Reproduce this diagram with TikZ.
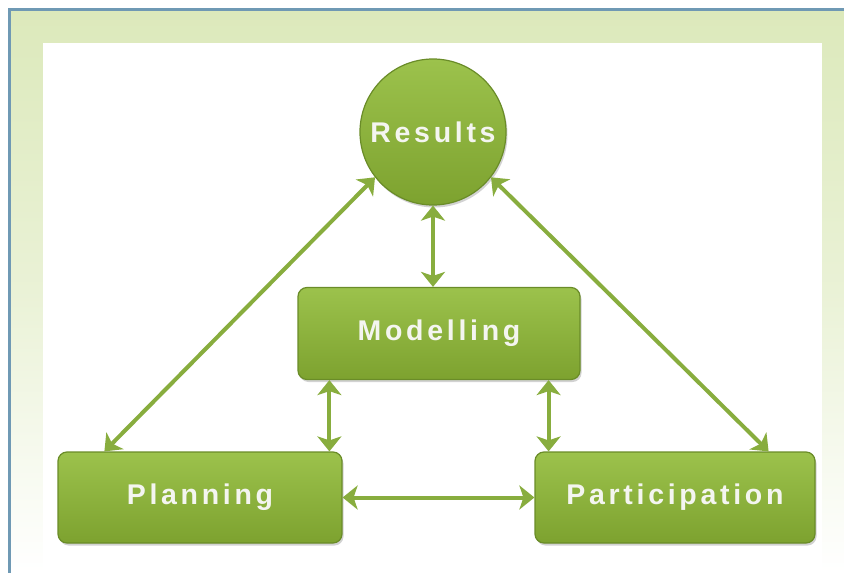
\documentclass[tikz,border=0pt]{standalone}
\usepackage{fontspec}
\setmainfont{Liberation Sans}
\newfontfamily\labelfont[LetterSpace=13]{Liberation Sans}
\usetikzlibrary{arrows.meta,shadows}
\definecolor{framegreen}{HTML}{DCE9BB}
\definecolor{frameblue}{HTML}{6F99B4}
\definecolor{boxtop}{HTML}{9CC24C}
\definecolor{boxbot}{HTML}{7DA22F}
\definecolor{boxline}{HTML}{6A8C28}
\definecolor{arrowgreen}{HTML}{88AD3E}
\definecolor{labelwhite}{HTML}{F4F5F0}
\tikzset{
  greenshape/.style={draw=boxline, line width=1.2pt, top color=boxtop, bottom color=boxbot,
    text=labelwhite, font=\labelfont\bfseries\fontsize{28.5pt}{32pt}\selectfont,
    drop shadow={shadow xshift=1.5pt, shadow yshift=-2.5pt, opacity=0.35}},
  stepbox/.style={greenshape, rectangle, rounded corners=9pt, inner sep=0pt},
  circ/.style={greenshape, circle, minimum size=146pt, inner sep=0pt},
  arr/.style={draw=arrowgreen, line width=4pt,
    {Stealth[length=15pt,width=24pt,inset=4pt]}-{Stealth[length=15pt,width=24pt,inset=4pt]}}
}
\begin{document}
\begin{tikzpicture}[x=1pt,y=-1pt]
\useasboundingbox (0,0) rectangle (844,573);
\fill[top color=framegreen, bottom color=white, middle color=framegreen!60!white] (9.5,9.5) rectangle (844,573);
\fill[white] (43,43) rectangle (822,573);
\draw[frameblue, line width=3pt] (9.5,573) -- (9.5,9.5) -- (844,9.5);

\node[circ] (res) at (433,132) {Results};
\node[stepbox, minimum width=282pt, minimum height=92pt] (mod) at (439,333.5) {Modelling};
\node[stepbox, minimum width=284pt, minimum height=91pt] (plan) at (200,497.5) {Planning};
\node[stepbox, minimum width=280pt, minimum height=91pt] (part) at (675,497.5) {Participation};

\draw[arr] (res.south) -- (res.south |- mod.north);
\draw[arr] ([xshift=32pt]mod.south west) -- ([xshift=32pt]mod.south west |- plan.north);
\draw[arr] ([xshift=-32pt]mod.south east) -- ([xshift=-32pt]mod.south east |- part.north);
\draw[arr] (plan.east) -- (part.west);
\draw[arr] (res.218) -- ([xshift=47pt]plan.north west);
\draw[arr] (res.-38) -- ([xshift=-47pt]part.north east);
\end{tikzpicture}
\end{document}
